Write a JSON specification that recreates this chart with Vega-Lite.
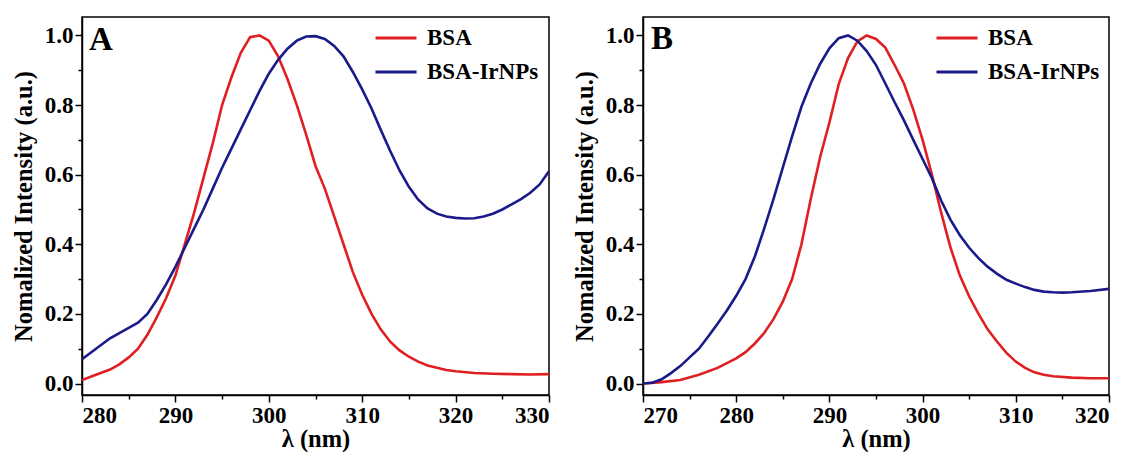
{
  "$schema": "https://vega.github.io/schema/vega-lite/v6.json",
  "background": "white",
  "padding": {"left": 10, "top": 15, "right": 0, "bottom": 0},
  "spacing": 18,
  "config": {
    "view": {"stroke": "black", "strokeWidth": 1.5},
    "font": "Liberation Serif",
    "axis": {
      "grid": false,
      "labelFont": "Liberation Serif", "labelFontWeight": "bold", "labelFontSize": 23, "labelColor": "black",
      "titleFont": "Liberation Serif", "titleFontWeight": "bold", "titleFontSize": 24.5, "titleColor": "black",
      "domainColor": "black", "domainWidth": 1.5, "tickColor": "black", "tickWidth": 1.5, "tickSize": 7,
      "labelPadding": 2
    },
    "legend": {
      "labelFont": "Liberation Serif", "labelFontWeight": "bold", "labelFontSize": 23, "labelColor": "black",
      "symbolType": "stroke", "symbolSize": 1681, "symbolStrokeWidth": 3, "labelOffset": 9,
      "rowPadding": -4, "padding": 0, "orient": "none", "legendX": 292, "legendY": -1, "title": null
    }
  },
  "datasets": {
    "a": [
      {"s":"BSA","x":280,"y":0.01},{"s":"BSA","x":281,"y":0.02},{"s":"BSA","x":282,"y":0.03},{"s":"BSA","x":283,"y":0.04},{"s":"BSA","x":284,"y":0.055},{"s":"BSA","x":285,"y":0.075},{"s":"BSA","x":286,"y":0.1},{"s":"BSA","x":287,"y":0.14},{"s":"BSA","x":288,"y":0.19},{"s":"BSA","x":289,"y":0.245},{"s":"BSA","x":290,"y":0.31},{"s":"BSA","x":291,"y":0.4},{"s":"BSA","x":292,"y":0.49},{"s":"BSA","x":293,"y":0.59},{"s":"BSA","x":294,"y":0.69},{"s":"BSA","x":295,"y":0.8},{"s":"BSA","x":296,"y":0.88},{"s":"BSA","x":297,"y":0.95},{"s":"BSA","x":298,"y":0.995},{"s":"BSA","x":299,"y":1.0},{"s":"BSA","x":300,"y":0.985},{"s":"BSA","x":301,"y":0.94},{"s":"BSA","x":302,"y":0.875},{"s":"BSA","x":303,"y":0.8},{"s":"BSA","x":304,"y":0.715},{"s":"BSA","x":305,"y":0.625},{"s":"BSA","x":306,"y":0.56},{"s":"BSA","x":307,"y":0.48},{"s":"BSA","x":308,"y":0.4},{"s":"BSA","x":309,"y":0.32},{"s":"BSA","x":310,"y":0.255},{"s":"BSA","x":311,"y":0.2},{"s":"BSA","x":312,"y":0.155},{"s":"BSA","x":313,"y":0.12},{"s":"BSA","x":314,"y":0.095},{"s":"BSA","x":315,"y":0.077},{"s":"BSA","x":316,"y":0.063},{"s":"BSA","x":317,"y":0.052},{"s":"BSA","x":318,"y":0.045},{"s":"BSA","x":319,"y":0.039},{"s":"BSA","x":320,"y":0.035},{"s":"BSA","x":322,"y":0.03},{"s":"BSA","x":324,"y":0.028},{"s":"BSA","x":326,"y":0.027},{"s":"BSA","x":328,"y":0.026},{"s":"BSA","x":330,"y":0.027},
      {"s":"BSA-IrNPs","x":280,"y":0.07},{"s":"BSA-IrNPs","x":281,"y":0.09},{"s":"BSA-IrNPs","x":282,"y":0.11},{"s":"BSA-IrNPs","x":283,"y":0.13},{"s":"BSA-IrNPs","x":284,"y":0.145},{"s":"BSA-IrNPs","x":285,"y":0.16},{"s":"BSA-IrNPs","x":286,"y":0.175},{"s":"BSA-IrNPs","x":287,"y":0.2},{"s":"BSA-IrNPs","x":288,"y":0.24},{"s":"BSA-IrNPs","x":289,"y":0.285},{"s":"BSA-IrNPs","x":290,"y":0.335},{"s":"BSA-IrNPs","x":291,"y":0.39},{"s":"BSA-IrNPs","x":292,"y":0.445},{"s":"BSA-IrNPs","x":293,"y":0.5},{"s":"BSA-IrNPs","x":294,"y":0.56},{"s":"BSA-IrNPs","x":295,"y":0.62},{"s":"BSA-IrNPs","x":296,"y":0.675},{"s":"BSA-IrNPs","x":297,"y":0.73},{"s":"BSA-IrNPs","x":298,"y":0.785},{"s":"BSA-IrNPs","x":299,"y":0.84},{"s":"BSA-IrNPs","x":300,"y":0.89},{"s":"BSA-IrNPs","x":301,"y":0.93},{"s":"BSA-IrNPs","x":302,"y":0.962},{"s":"BSA-IrNPs","x":303,"y":0.985},{"s":"BSA-IrNPs","x":304,"y":0.997},{"s":"BSA-IrNPs","x":305,"y":0.998},{"s":"BSA-IrNPs","x":306,"y":0.99},{"s":"BSA-IrNPs","x":307,"y":0.97},{"s":"BSA-IrNPs","x":308,"y":0.94},{"s":"BSA-IrNPs","x":309,"y":0.895},{"s":"BSA-IrNPs","x":310,"y":0.845},{"s":"BSA-IrNPs","x":311,"y":0.79},{"s":"BSA-IrNPs","x":312,"y":0.728},{"s":"BSA-IrNPs","x":313,"y":0.668},{"s":"BSA-IrNPs","x":314,"y":0.612},{"s":"BSA-IrNPs","x":315,"y":0.565},{"s":"BSA-IrNPs","x":316,"y":0.528},{"s":"BSA-IrNPs","x":317,"y":0.503},{"s":"BSA-IrNPs","x":318,"y":0.488},{"s":"BSA-IrNPs","x":319,"y":0.48},{"s":"BSA-IrNPs","x":320,"y":0.476},{"s":"BSA-IrNPs","x":321,"y":0.474},{"s":"BSA-IrNPs","x":322,"y":0.475},{"s":"BSA-IrNPs","x":323,"y":0.48},{"s":"BSA-IrNPs","x":324,"y":0.488},{"s":"BSA-IrNPs","x":325,"y":0.5},{"s":"BSA-IrNPs","x":326,"y":0.515},{"s":"BSA-IrNPs","x":327,"y":0.53},{"s":"BSA-IrNPs","x":328,"y":0.548},{"s":"BSA-IrNPs","x":329,"y":0.572},{"s":"BSA-IrNPs","x":330,"y":0.61}
    ],
    "b": [
      {"s":"BSA","x":270,"y":0.0},{"s":"BSA","x":272,"y":0.004},{"s":"BSA","x":274,"y":0.01},{"s":"BSA","x":276,"y":0.025},{"s":"BSA","x":278,"y":0.045},{"s":"BSA","x":280,"y":0.072},{"s":"BSA","x":281,"y":0.09},{"s":"BSA","x":282,"y":0.115},{"s":"BSA","x":283,"y":0.145},{"s":"BSA","x":284,"y":0.185},{"s":"BSA","x":285,"y":0.235},{"s":"BSA","x":286,"y":0.3},{"s":"BSA","x":287,"y":0.4},{"s":"BSA","x":288,"y":0.53},{"s":"BSA","x":289,"y":0.65},{"s":"BSA","x":290,"y":0.75},{"s":"BSA","x":291,"y":0.86},{"s":"BSA","x":292,"y":0.935},{"s":"BSA","x":293,"y":0.983},{"s":"BSA","x":294,"y":1.0},{"s":"BSA","x":295,"y":0.99},{"s":"BSA","x":296,"y":0.965},{"s":"BSA","x":297,"y":0.915},{"s":"BSA","x":298,"y":0.862},{"s":"BSA","x":299,"y":0.787},{"s":"BSA","x":300,"y":0.7},{"s":"BSA","x":301,"y":0.6},{"s":"BSA","x":302,"y":0.49},{"s":"BSA","x":303,"y":0.39},{"s":"BSA","x":304,"y":0.31},{"s":"BSA","x":305,"y":0.25},{"s":"BSA","x":306,"y":0.2},{"s":"BSA","x":307,"y":0.155},{"s":"BSA","x":308,"y":0.12},{"s":"BSA","x":309,"y":0.088},{"s":"BSA","x":310,"y":0.063},{"s":"BSA","x":311,"y":0.045},{"s":"BSA","x":312,"y":0.032},{"s":"BSA","x":313,"y":0.025},{"s":"BSA","x":314,"y":0.021},{"s":"BSA","x":316,"y":0.017},{"s":"BSA","x":318,"y":0.015},{"s":"BSA","x":320,"y":0.015},
      {"s":"BSA-IrNPs","x":270,"y":0.0},{"s":"BSA-IrNPs","x":271,"y":0.002},{"s":"BSA-IrNPs","x":272,"y":0.012},{"s":"BSA-IrNPs","x":273,"y":0.03},{"s":"BSA-IrNPs","x":274,"y":0.05},{"s":"BSA-IrNPs","x":275,"y":0.075},{"s":"BSA-IrNPs","x":276,"y":0.1},{"s":"BSA-IrNPs","x":277,"y":0.135},{"s":"BSA-IrNPs","x":278,"y":0.172},{"s":"BSA-IrNPs","x":279,"y":0.21},{"s":"BSA-IrNPs","x":280,"y":0.252},{"s":"BSA-IrNPs","x":281,"y":0.3},{"s":"BSA-IrNPs","x":282,"y":0.365},{"s":"BSA-IrNPs","x":283,"y":0.445},{"s":"BSA-IrNPs","x":284,"y":0.53},{"s":"BSA-IrNPs","x":285,"y":0.62},{"s":"BSA-IrNPs","x":286,"y":0.71},{"s":"BSA-IrNPs","x":287,"y":0.795},{"s":"BSA-IrNPs","x":288,"y":0.862},{"s":"BSA-IrNPs","x":289,"y":0.918},{"s":"BSA-IrNPs","x":290,"y":0.963},{"s":"BSA-IrNPs","x":291,"y":0.992},{"s":"BSA-IrNPs","x":292,"y":1.0},{"s":"BSA-IrNPs","x":293,"y":0.985},{"s":"BSA-IrNPs","x":294,"y":0.955},{"s":"BSA-IrNPs","x":295,"y":0.915},{"s":"BSA-IrNPs","x":296,"y":0.862},{"s":"BSA-IrNPs","x":297,"y":0.808},{"s":"BSA-IrNPs","x":298,"y":0.756},{"s":"BSA-IrNPs","x":299,"y":0.7},{"s":"BSA-IrNPs","x":300,"y":0.645},{"s":"BSA-IrNPs","x":301,"y":0.59},{"s":"BSA-IrNPs","x":302,"y":0.525},{"s":"BSA-IrNPs","x":303,"y":0.47},{"s":"BSA-IrNPs","x":304,"y":0.426},{"s":"BSA-IrNPs","x":305,"y":0.39},{"s":"BSA-IrNPs","x":306,"y":0.36},{"s":"BSA-IrNPs","x":307,"y":0.335},{"s":"BSA-IrNPs","x":308,"y":0.315},{"s":"BSA-IrNPs","x":309,"y":0.298},{"s":"BSA-IrNPs","x":310,"y":0.287},{"s":"BSA-IrNPs","x":311,"y":0.277},{"s":"BSA-IrNPs","x":312,"y":0.269},{"s":"BSA-IrNPs","x":313,"y":0.264},{"s":"BSA-IrNPs","x":314,"y":0.262},{"s":"BSA-IrNPs","x":315,"y":0.261},{"s":"BSA-IrNPs","x":316,"y":0.262},{"s":"BSA-IrNPs","x":318,"y":0.266},{"s":"BSA-IrNPs","x":320,"y":0.272}
    ]
  },
  "resolve": {"scale": {"color": "independent"}, "legend": {"color": "independent"}},
  "hconcat": [
    {
      "width": 467, "height": 378,
      "data": {"name": "a"},
      "resolve": {"axis": {"x": "independent", "y": "independent"}},
      "layer": [
        {
          "mark": {"type": "line", "strokeWidth": 2.6, "clip": true},
          "encoding": {
            "x": {"field": "x", "type": "quantitative", "scale": {"domain": [280, 330], "nice": false, "zero": false},
                  "axis": {"orient": "bottom", "values": [280, 290, 300, 310, 320, 330], "title": "λ (nm)", "titlePadding": 0}},
            "y": {"field": "y", "type": "quantitative", "scale": {"domain": [-0.033, 1.053], "nice": false, "zero": false},
                  "axis": {"orient": "left", "values": [0, 0.2, 0.4, 0.6, 0.8, 1.0], "format": ".1f", "title": "Nomalized Intensity (a.u.)", "titlePadding": 8}},
            "color": {"field": "s", "type": "nominal", "scale": {"domain": ["BSA", "BSA-IrNPs"], "range": ["#e01f22", "#1a1a8a"]}}
          }
        },
        {
          "mark": {"type": "point", "opacity": 0},
          "encoding": {
            "x": {"field": "x", "type": "quantitative",
                  "axis": {"orient": "bottom", "values": [285, 295, 305, 315, 325], "labels": false, "domain": false, "tickSize": 4, "title": null}},
            "y": {"field": "y", "type": "quantitative",
                  "axis": {"orient": "left", "values": [0.1, 0.3, 0.5, 0.7, 0.9], "labels": false, "domain": false, "tickSize": 4, "title": null}}
          }
        },
        {
          "data": {"values": [{"label": "A"}]},
          "mark": {"type": "text", "align": "left", "baseline": "alphabetic", "font": "Liberation Serif", "fontWeight": "bold", "fontSize": 33, "fill": "black"},
          "encoding": {
            "text": {"field": "label", "type": "nominal"},
            "x": {"datum": 280.75, "type": "quantitative", "axis": null},
            "y": {"datum": 0.957, "type": "quantitative", "axis": null}
          }
        }
      ]
    },
    {
      "width": 466, "height": 378,
      "data": {"name": "b"},
      "resolve": {"axis": {"x": "independent", "y": "independent"}},
      "layer": [
        {
          "mark": {"type": "line", "strokeWidth": 2.6, "clip": true},
          "encoding": {
            "x": {"field": "x", "type": "quantitative", "scale": {"domain": [270, 320], "nice": false, "zero": false},
                  "axis": {"orient": "bottom", "values": [270, 280, 290, 300, 310, 320], "title": "λ (nm)", "titlePadding": 0}},
            "y": {"field": "y", "type": "quantitative", "scale": {"domain": [-0.033, 1.053], "nice": false, "zero": false},
                  "axis": {"orient": "left", "values": [0, 0.2, 0.4, 0.6, 0.8, 1.0], "format": ".1f", "title": "Nomalized Intensity (a.u.)", "titlePadding": 8}},
            "color": {"field": "s", "type": "nominal", "scale": {"domain": ["BSA", "BSA-IrNPs"], "range": ["#e01f22", "#1a1a8a"]}}
          }
        },
        {
          "mark": {"type": "point", "opacity": 0},
          "encoding": {
            "x": {"field": "x", "type": "quantitative",
                  "axis": {"orient": "bottom", "values": [275, 285, 295, 305, 315], "labels": false, "domain": false, "tickSize": 4, "title": null}},
            "y": {"field": "y", "type": "quantitative",
                  "axis": {"orient": "left", "values": [0.1, 0.3, 0.5, 0.7, 0.9], "labels": false, "domain": false, "tickSize": 4, "title": null}}
          }
        },
        {
          "data": {"values": [{"label": "B"}]},
          "mark": {"type": "text", "align": "left", "baseline": "alphabetic", "font": "Liberation Serif", "fontWeight": "bold", "fontSize": 33, "fill": "black"},
          "encoding": {
            "text": {"field": "label", "type": "nominal"},
            "x": {"datum": 270.85, "type": "quantitative", "axis": null},
            "y": {"datum": 0.96, "type": "quantitative", "axis": null}
          }
        }
      ]
    }
  ]
}
